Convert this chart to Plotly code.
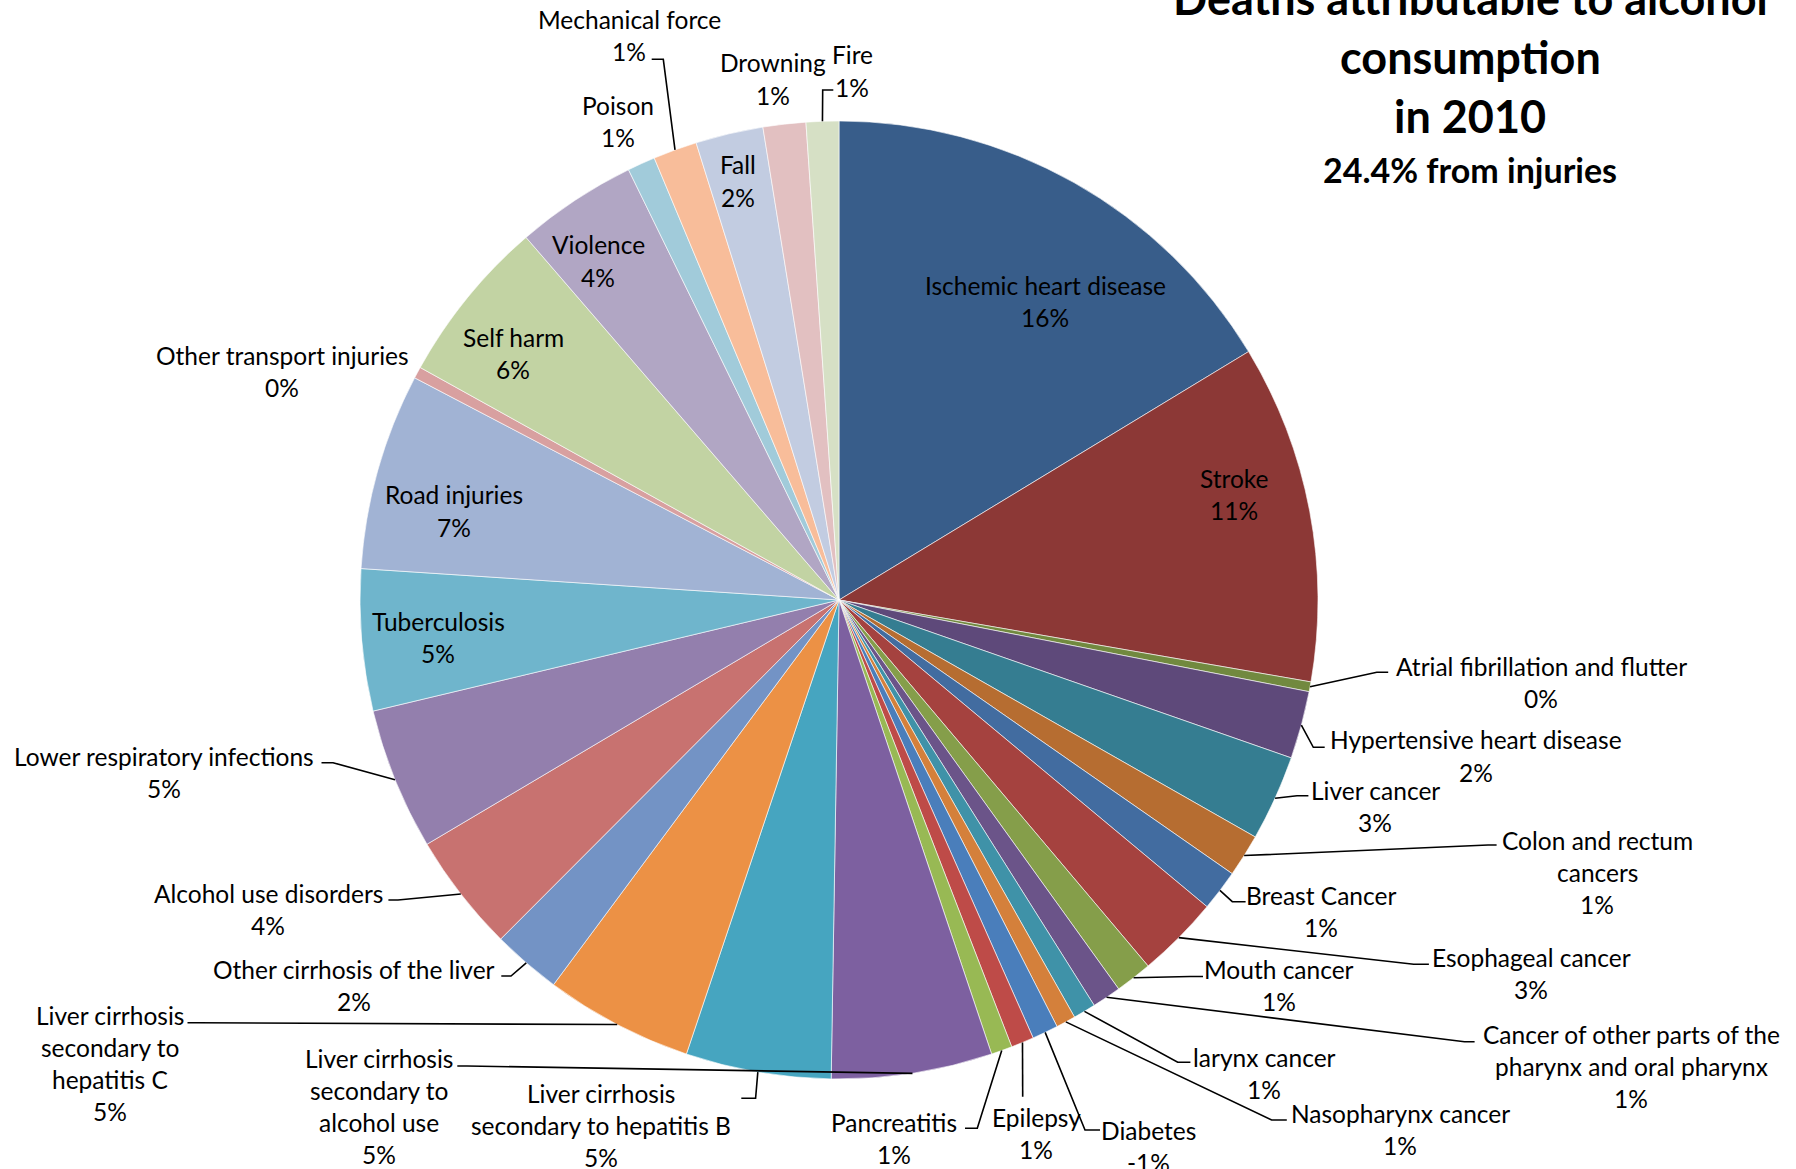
import math
import plotly.graph_objects as go

# ---------------- data ----------------
causes = [
    "Ischemic heart disease", "Stroke", "Atrial fibrillation and flutter",
    "Hypertensive heart disease", "Liver cancer", "Colon and rectum cancers",
    "Breast Cancer", "Esophageal cancer", "Mouth cancer",
    "Cancer of other parts of the pharynx and oral pharynx", "larynx cancer",
    "Nasopharynx cancer", "Diabetes", "Epilepsy", "Pancreatitis",
    "Liver cirrhosis secondary to alcohol use",
    "Liver cirrhosis secondary to hepatitis B",
    "Liver cirrhosis secondary to hepatitis C",
    "Other cirrhosis of the liver", "Alcohol use disorders",
    "Lower respiratory infections", "Tuberculosis", "Road injuries",
    "Other transport injuries", "Self harm", "Violence", "Poison",
    "Mechanical force", "Fall", "Drowning", "Fire",
]
# share of alcohol-attributable deaths (%)
share = [
    16.32, 11.41, 0.33, 2.28, 2.89, 1.44, 1.38, 2.78, 1.24, 0.98, 0.76, 0.66,
    -0.88, 0.77, 0.71, 5.42, 4.90, 5.00, 2.32, 4.00, 4.79, 4.77, 6.63, 0.39,
    5.60, 4.09, 0.94, 1.48, 2.28, 1.44, 1.10,
]
colors = [
    "#385D8A", "#8C3836", "#71893F", "#5E497A", "#357D91", "#B66D31",
    "#426CA0", "#A5423F", "#859E4A", "#6B5489", "#3F92A8", "#D4803B",
    "#4A7EBB", "#BE4B48", "#98B954", "#7D60A0", "#46A5C0", "#EC9145",
    "#7393C5", "#C87270", "#937FAD", "#6FB5CC", "#A1B3D4", "#D8A0A0",
    "#C2D3A3", "#B1A6C4", "#A1CBDA", "#F8BD9A", "#C2CCE1", "#E2C0C1",
    "#D6E0C5",
]
title_lines = ["Deaths attributable to alcohol", "consumption", "in 2010"]
subtitle = "24.4% from injuries"

# ---------------- layout (pixels) ----------------
W, H = 1796, 1169
CX, CY, R = 839.0, 600.0, 479.0
FONT = "Lato, 'Open Sans', sans-serif"
LABEL_SIZE = 24.5
LS = 32.3  # line spacing of labels

wrap = {
    "Colon and rectum cancers": ["Colon and rectum", "cancers"],
    "Cancer of other parts of the pharynx and oral pharynx":
        ["Cancer of other parts of the", "pharynx and oral pharynx"],
    "Liver cirrhosis secondary to hepatitis C":
        ["Liver cirrhosis", "secondary to", "hepatitis C"],
    "Liver cirrhosis secondary to alcohol use":
        ["Liver cirrhosis", "secondary to", "alcohol use"],
    "Liver cirrhosis secondary to hepatitis B":
        ["Liver cirrhosis", "secondary to hepatitis B"],
}
# label centre x, first line y, leader points (from slice edge onwards)
label_pos = {
    "Ischemic heart disease": (1045, 285, None),
    "Stroke": (1234, 478, None),
    "Atrial fibrillation and flutter": (1541, 666, [(1376.8, 672.3), (1388.2, 672.3)]),
    "Hypertensive heart disease": (1476, 740, [(1313.3, 747.3), (1324.7, 747.3)]),
    "Liver cancer": (1375, 790, [(1297, 795.7), (1308.4, 795.7)]),
    "Colon and rectum cancers": (1597, 840, [(1488, 845), (1496.6, 845)]),
    "Breast Cancer": (1321, 895, [(1232.3, 901.7), (1245.6, 901.7)]),
    "Esophageal cancer": (1531, 957, [(1413.7, 964.3), (1428.9, 964.3)]),
    "Mouth cancer": (1279, 969, [(1190, 976.5), (1203, 976.5)]),
    "Cancer of other parts of the pharynx and oral pharynx":
        (1631, 1034, [(1464.5, 1041.7), (1474.6, 1041.7)]),
    "larynx cancer": (1264, 1057, [(1177.7, 1062.3), (1190.4, 1062.3)]),
    "Nasopharynx cancer": (1400, 1113, [(1271.6, 1120), (1286.8, 1120)]),
    "Diabetes": (1148, 1130, [(1085, 1130), (1100, 1130)]),
    "Epilepsy": (1036, 1117, [(1022.7, 1096.7)]),
    "Pancreatitis": (894, 1122, [(977.3, 1128.3), (965, 1128.3)]),
    "Liver cirrhosis secondary to alcohol use": (379, 1058, [(467, 1066), (457.3, 1066)]),
    "Liver cirrhosis secondary to hepatitis B": (601, 1093, [(755.6, 1098.3), (741.3, 1098.3)]),
    "Liver cirrhosis secondary to hepatitis C": (110, 1015, [(197, 1022.7), (187.5, 1022.7)]),
    "Other cirrhosis of the liver": (354, 969, [(511, 976), (501.3, 976)]),
    "Alcohol use disorders": (268, 893, [(398, 900), (388.4, 900)]),
    "Lower respiratory infections": (164, 756, [(333, 762.7), (321.5, 762.7)]),
    "Tuberculosis": (438, 621, None),
    "Road injuries": (454, 495, None),
    "Other transport injuries": (282, 355, None),
    "Self harm": (513, 337, None),
    "Violence": (598, 245, None),
    "Poison": (618, 105, None),
    "Mechanical force": (629, 19.5, [(663.3, 59.3), (651.7, 59.3)]),
    "Fall": (738, 165, None),
    "Drowning": (773, 63, None),
    "Fire": (852, 55, [(822.7, 90), (833.3, 90)]),
}


def px(x):
    return x / W


def py(y):
    return 1 - y / H


sizes = [abs(v) for v in share]
total = sum(sizes)

fig = go.Figure(go.Pie(
    labels=causes,
    values=sizes,
    sort=False,
    direction="clockwise",
    rotation=0,
    textinfo="none",
    hoverinfo="label+percent",
    marker=dict(colors=colors, line=dict(color="rgba(255,255,255,0.85)", width=0.7)),
    domain=dict(x=[px(CX - R), px(CX + R)], y=[py(CY + R), py(CY - R)]),
    showlegend=False,
))

annotations = []
shapes = []
cum = 0.0
for name, v, s in zip(causes, share, sizes):
    mid = (cum + s / 2) / total * 360.0
    cum += s
    pct = f"{round(v / total * 100)}%"
    lines = wrap.get(name, [name]) + [pct]
    cx, y0, leader = label_pos[name]
    for i, t in enumerate(lines):
        annotations.append(dict(
            x=px(cx), y=py(y0 + i * LS), xref="paper", yref="paper",
            text=t, showarrow=False, xanchor="center", yanchor="middle",
            font=dict(family=FONT, size=LABEL_SIZE, color="#000000"),
        ))
    if leader:
        a = math.radians(mid)
        ex, ey = CX + R * math.sin(a), CY - R * math.cos(a)
        pts = [(ex, ey)] + leader
        path = "M " + " L ".join(f"{px(x):.5f},{py(y):.5f}" for x, y in pts)
        shapes.append(dict(type="path", path=path, xref="paper", yref="paper",
                           line=dict(color="#000000", width=1.6)))

title_y = [-2, 57, 116]
for t, y in zip(title_lines, title_y):
    annotations.append(dict(
        x=px(1470), y=py(y), xref="paper", yref="paper", text=f"<b>{t}</b>",
        showarrow=False, xanchor="center", yanchor="middle",
        font=dict(family=FONT, size=45, color="#000000"),
    ))
annotations.append(dict(
    x=px(1470), y=py(169), xref="paper", yref="paper", text=f"<b>{subtitle}</b>",
    showarrow=False, xanchor="center", yanchor="middle",
    font=dict(family=FONT, size=34, color="#000000"),
))

fig.update_layout(
    width=W, height=H,
    margin=dict(l=0, r=0, t=0, b=0),
    paper_bgcolor="#FFFFFF", plot_bgcolor="#FFFFFF",
    annotations=annotations, shapes=shapes,
)

fig.write_html("out.html")
